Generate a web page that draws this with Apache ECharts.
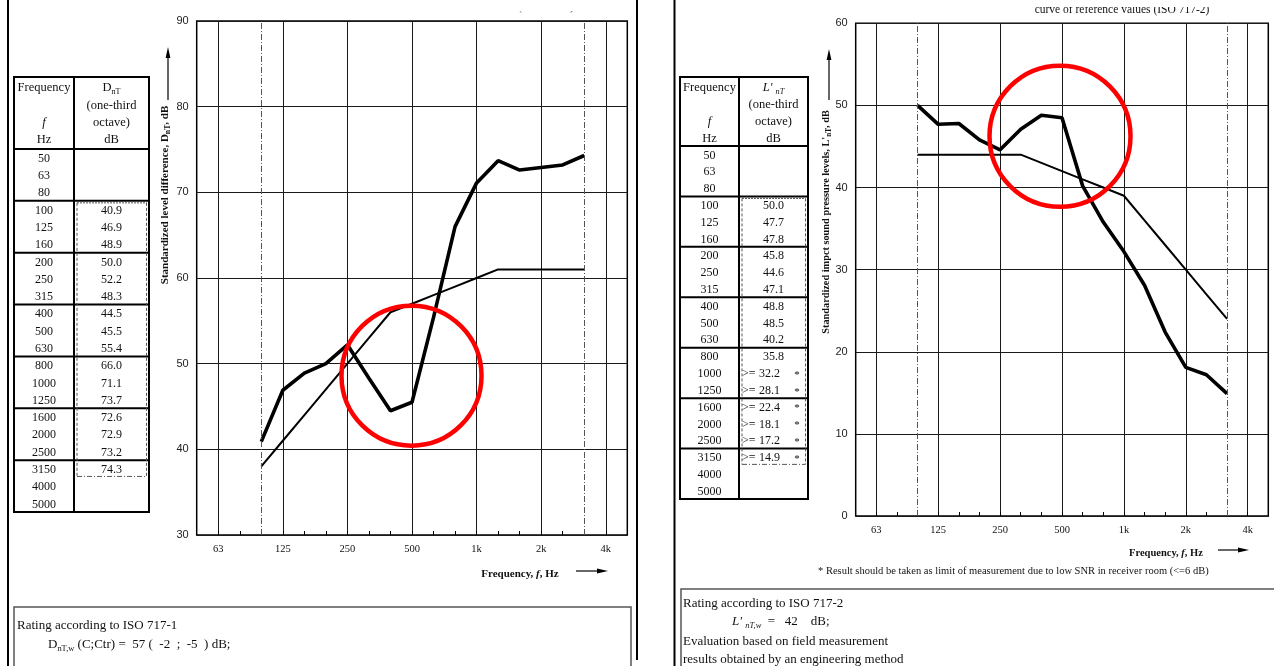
<!DOCTYPE html>
<html><head><meta charset="utf-8">
<script src="https://cdn.jsdelivr.net/npm/echarts@6/dist/echarts.min.js"></script>
<style>html,body{margin:0;padding:0;background:#fff;}#c{width:1274px;height:666px;}</style>
</head><body><div id="c"></div>
<script>
// ---- data ----
const freqs = ['50','63','80','100','125','160','200','250','315','400','500','630','800','1000','1250','1600','2000','2500','3150','4000','5000'];
const bands = ['100','125','160','200','250','315','400','500','630','800','1000','1250','1600','2000','2500','3150'];
const tickLabels = ['63','125','250','500','1k','2k','4k'];
const dnT = [40.9,46.9,48.9,50.0,52.2,48.3,44.5,45.5,55.4,66.0,71.1,73.7,72.6,72.9,73.2,74.3];
const refAirborne = [38,41,44,47,50,53,56,57,58,59,60,61,61,61,61,61];
const lnT = [50.0,47.7,47.8,45.8,44.6,47.1,48.8,48.5,40.2,35.8,32.2,28.1,22.4,18.1,17.2,14.9];
const lnTLimited = [false,false,false,false,false,false,false,false,false,false,true,true,true,true,true,true];
const refImpact = [44,44,44,44,44,44,43,42,41,40,39,36,33,30,27,24];

const SERIF = '"Liberation Serif", "Times New Roman", serif';
const SANS = '"Liberation Sans", Arial, sans-serif';

const chart = echarts.init(document.getElementById('c'), null, {renderer:'canvas'});

function xAxisCfg(gi){
  return {type:'category', gridIndex:gi, data:freqs, boundaryGap:false,
    axisLine:{show:false},
    axisTick:{show:true, inside:true, length:4, interval:0, lineStyle:{color:'#000', width:1}},
    axisLabel:{interval:0, margin:9, fontFamily:SERIF, fontSize:10.5, color:'#111',
      formatter:(v,i)=> (i%3===1 ? tickLabels[(i-1)/3] : '')},
    splitLine:{show:true, interval:(i)=> i%3===1, lineStyle:{color:'#1a1a1a', width:1}}
  };
}
function yAxisCfg(gi,min,max){
  return {type:'value', gridIndex:gi, min, max, interval:10,
    axisLine:{show:false}, axisTick:{show:false},
    axisLabel:{margin:8, fontFamily:SANS, fontSize:11, color:'#222'},
    splitLine:{show:true, lineStyle:{color:'#1a1a1a', width:1}}
  };
}
const dashDot = {silent:true, symbol:['none','none'], label:{show:false}, animation:false,
  lineStyle:{color:'#555', width:1, type:[6,2,1,2]},
  data:[{xAxis:freqs.indexOf('100')},{xAxis:freqs.indexOf('3150')}]};

chart.setOption({
  animation:false,
  backgroundColor:'#fff',
  grid:[
    {left:196.7, top:21, width:430.6, height:514, show:true, borderColor:'#000', borderWidth:1.5},
    {left:855.7, top:23.3, width:412.6, height:492.7, show:true, borderColor:'#000', borderWidth:1.5}
  ],
  xAxis:[xAxisCfg(0), xAxisCfg(1)],
  yAxis:[yAxisCfg(0,30,90), yAxisCfg(1,0,60)],
  series:[
    {type:'line', xAxisIndex:0, yAxisIndex:0, data:bands.map((b,i)=>[b,refAirborne[i]]), symbol:'none',
      lineStyle:{color:'#000', width:2}, z:3, markLine:dashDot},
    {type:'line', xAxisIndex:0, yAxisIndex:0, data:bands.map((b,i)=>[b,dnT[i]]), symbol:'none',
      lineStyle:{color:'#000', width:3.6}, z:4},
    {type:'line', xAxisIndex:1, yAxisIndex:1, data:bands.map((b,i)=>[b,refImpact[i]]), symbol:'none',
      lineStyle:{color:'#000', width:2}, z:3, markLine:dashDot},
    {type:'line', xAxisIndex:1, yAxisIndex:1, data:bands.map((b,i)=>[b,lnT[i]]), symbol:'none',
      lineStyle:{color:'#000', width:3.6}, z:4}
  ]
});

// ---- graphic helpers ----
const T = (text, x, y, style={}, rot=0) => ({type:'text', x, y, rotation:rot, silent:true, z:10,
  style:Object.assign({text, fontFamily:SERIF, fontSize:12.5, fill:'#111', align:'center', verticalAlign:'middle'}, style)});
const L = (x1,y1,x2,y2,w=1,c='#000',dash=null) => ({type:'line', silent:true, z:5,
  shape:{x1,y1,x2,y2}, style:{stroke:c, lineWidth:w, lineDash:dash}});
const R = (x,y,w,h,lw=1,c='#000') => ({type:'rect', silent:true, z:5, shape:{x,y,width:w,height:h}, style:{fill:null, stroke:c, lineWidth:lw}});
const P = (pts) => ({type:'polygon', silent:true, z:5, shape:{points:pts}, style:{fill:'#000'}});

function tableElems(t, valueFn, headers){
  const els = [];
  const n = freqs.length;
  const rowH = (t.bottom - t.headBottom)/n;
  els.push(R(t.left, t.top, t.right-t.left, t.bottom-t.top, 2));
  els.push(L(t.div, t.top, t.div, t.bottom, 2));
  els.push(L(t.left, t.headBottom, t.right, t.headBottom, 2));
  for (let k=1;k<7;k++){ const y = t.headBottom + 3*k*rowH; els.push(L(t.left, y, t.right, y, 2)); }
  const y0 = t.headBottom + 3*rowH + 2, y1 = t.headBottom + 19*rowH - 1;
  const dash = [3,2], dd = [5,2,1,2];
  els.push(L(t.div+3, y0, t.div+3, y1, 1, '#555', dash));
  els.push(L(t.right-2.5, y0, t.right-2.5, y1, 1, '#555', dash));
  els.push(L(t.div+3, y0, t.right-2.5, y0, 1, '#555', [2,1]));
  els.push(L(t.div+3, y1, t.right-2.5, y1, 1, '#555', dd));
  const c1 = (t.left+t.div)/2, c2 = (t.div+t.right)/2;
  freqs.forEach((f,i)=>{ els.push(T(f, c1, t.headBottom+(i+0.5)*rowH+1, {fontSize:12})); });
  bands.forEach((b,i)=>{
    const y = t.headBottom + (freqs.indexOf(b)+0.5)*rowH + 1;
    valueFn(i, y, c2).forEach(e=>els.push(e));
  });
  headers.forEach(h=> els.push(T(h.text, h.col===1?c1:c2, h.y, h.style||{})));
  return els;
}

const subRich = (size)=>({
  a:{fontFamily:SERIF, fontSize:size, lineHeight:size+3, fill:'#111'},
  i:{fontFamily:SERIF, fontSize:size, fontStyle:'italic', lineHeight:size+3, fill:'#111'},
  s:{fontFamily:SERIF, fontSize:size*0.65, lineHeight:size*0.6, verticalAlign:'bottom', fill:'#111'},
  si:{fontFamily:SERIF, fontSize:size*0.65, fontStyle:'italic', lineHeight:size*0.6, verticalAlign:'bottom', fill:'#111'}
});
const boldRich = (size)=>({
  a:{fontFamily:SERIF, fontSize:size, fontWeight:'bold', lineHeight:size+3, fill:'#111'},
  i:{fontFamily:SERIF, fontSize:size, fontWeight:'bold', fontStyle:'italic', lineHeight:size+3, fill:'#111'},
  s:{fontFamily:SERIF, fontSize:size*0.7, fontWeight:'bold', lineHeight:size*0.6, verticalAlign:'bottom', fill:'#111'}
});

const els = [];
// page frame lines
els.push(L(8,0,8,666,2));
els.push(L(637,0,637,660,2));
els.push(L(674.5,0,674.5,666,2));

// clipped headings at top (only their lowest parts remain visible)
els.push(T('curve of reference values (ISO 717-1)', 574, 13, {fontSize:11.5, align:'right', verticalAlign:'bottom'}));
els.push({type:'rect', silent:true, z:11, shape:{x:360,y:0,width:230,height:11.2}, style:{fill:'#fff'}});
els.push(T('curve of reference values (ISO 717-2)', 1122, 10, {fontSize:11.5}));
els.push({type:'rect', silent:true, z:11, shape:{x:1000,y:0,width:240,height:7}, style:{fill:'#fff'}});

// left table
tableElems({left:14, div:74, right:149, top:77, headBottom:149, bottom:512},
  (i,y,c)=>[T(dnT[i].toFixed(1), c, y, {fontSize:12})],
  [
    {col:1, y:88, text:'Frequency'},
    {col:1, y:123, text:'f', style:{fontStyle:'italic'}},
    {col:1, y:140, text:'Hz'},
    {col:2, y:88, text:'{a|D}{s|nT}', style:{rich:subRich(12.5)}},
    {col:2, y:106, text:'(one-third'},
    {col:2, y:123, text:'octave)'},
    {col:2, y:140, text:'dB'}
  ]).forEach(e=>els.push(e));

// right table
tableElems({left:680, div:739, right:808, top:77, headBottom:146, bottom:499},
  (i,y,c)=> lnTLimited[i]
    ? [T('>=', 742, y, {fontSize:12, align:'left'}), T(lnT[i].toFixed(1), c-4, y, {fontSize:12}), T('*', 797, y+1, {fontSize:11})]
    : [T(lnT[i].toFixed(1), c, y, {fontSize:12})],
  [
    {col:1, y:88, text:'Frequency'},
    {col:1, y:122, text:'f', style:{fontStyle:'italic'}},
    {col:1, y:139, text:'Hz'},
    {col:2, y:88, text:"{i|L' }{si|nT}", style:{rich:subRich(12.5)}},
    {col:2, y:105, text:'(one-third'},
    {col:2, y:122, text:'octave)'},
    {col:2, y:139, text:'dB'}
  ]).forEach(e=>els.push(e));

// y-axis titles
els.push(T('{a|Standardized level difference, D}{s|nT}{a|, dB}', 165, 195, {rich:boldRich(11)}, Math.PI/2));
els.push(T("{a|Standardized impct sound pressure levels, L'}{s|nT}{a|, dB}", 826, 222, {rich:boldRich(10.3)}, Math.PI/2));
// y arrows
els.push(L(168,100,168,55,1.2)); els.push(P([[168,47],[165.6,58],[170.4,58]]));
els.push(L(829,100,829,57,1.2)); els.push(P([[829,49],[826.6,60],[831.4,60]]));
// x-axis titles
els.push(T('{a|Frequency, }{i|f}{a|, Hz}', 520, 574, {rich:boldRich(11)}));
els.push(L(576,571,598,571,1.2)); els.push(P([[608,571],[597,568.6],[597,573.4]]));
els.push(T('{a|Frequency, }{i|f}{a|, Hz}', 1166, 553, {rich:boldRich(10.5)}));
els.push(L(1218,550,1239,550,1.2)); els.push(P([[1249,550],[1238,547.6],[1238,552.4]]));

// footnote
els.push(T('* Result should be taken as limit of measurement due to low SNR in receiver room (<=6 dB)', 818, 571, {fontSize:10.5, align:'left'}));

// bottom boxes
els.push(R(14, 607, 617, 80, 1.5, '#555'));
els.push(T('Rating according to ISO 717-1', 17, 626, {fontSize:13, align:'left'}));
els.push(T('{a|D}{s|nT,w}{a| (C;Ctr) =  57 (  -2  ;  -5  ) dB;}', 48, 645, {align:'left', rich:subRich(13)}));
els.push(R(681, 589, 700, 100, 1.5, '#555'));
els.push(T('Rating according to ISO 717-2', 683, 604, {fontSize:13, align:'left'}));
els.push(T("{i|L' }{si|nT,w}{a|  =   42    dB;}", 732, 622, {align:'left', rich:subRich(13)}));
els.push(T('Evaluation based on field measurement', 683, 642, {fontSize:13, align:'left'}));
els.push(T('results obtained by an engineering method', 683, 660, {fontSize:13, align:'left'}));

// red annotation circles (anchored to data coordinates)
const cL = chart.convertToPixel({gridIndex:0}, [freqs.indexOf('500'), 48.6]);
const cR = chart.convertToPixel({gridIndex:1}, [freqs.indexOf('500'), 46.3]);
els.push({type:'circle', silent:true, z:20, shape:{cx:cL[0]-0.5, cy:cL[1], r:70}, style:{fill:null, stroke:'#ff0000', lineWidth:4.5}});
els.push({type:'circle', silent:true, z:20, shape:{cx:cR[0]-2, cy:cR[1]+0.5, r:70.5}, style:{fill:null, stroke:'#ff0000', lineWidth:4.5}});

chart.setOption({graphic:{elements:els}});
</script></body></html>
